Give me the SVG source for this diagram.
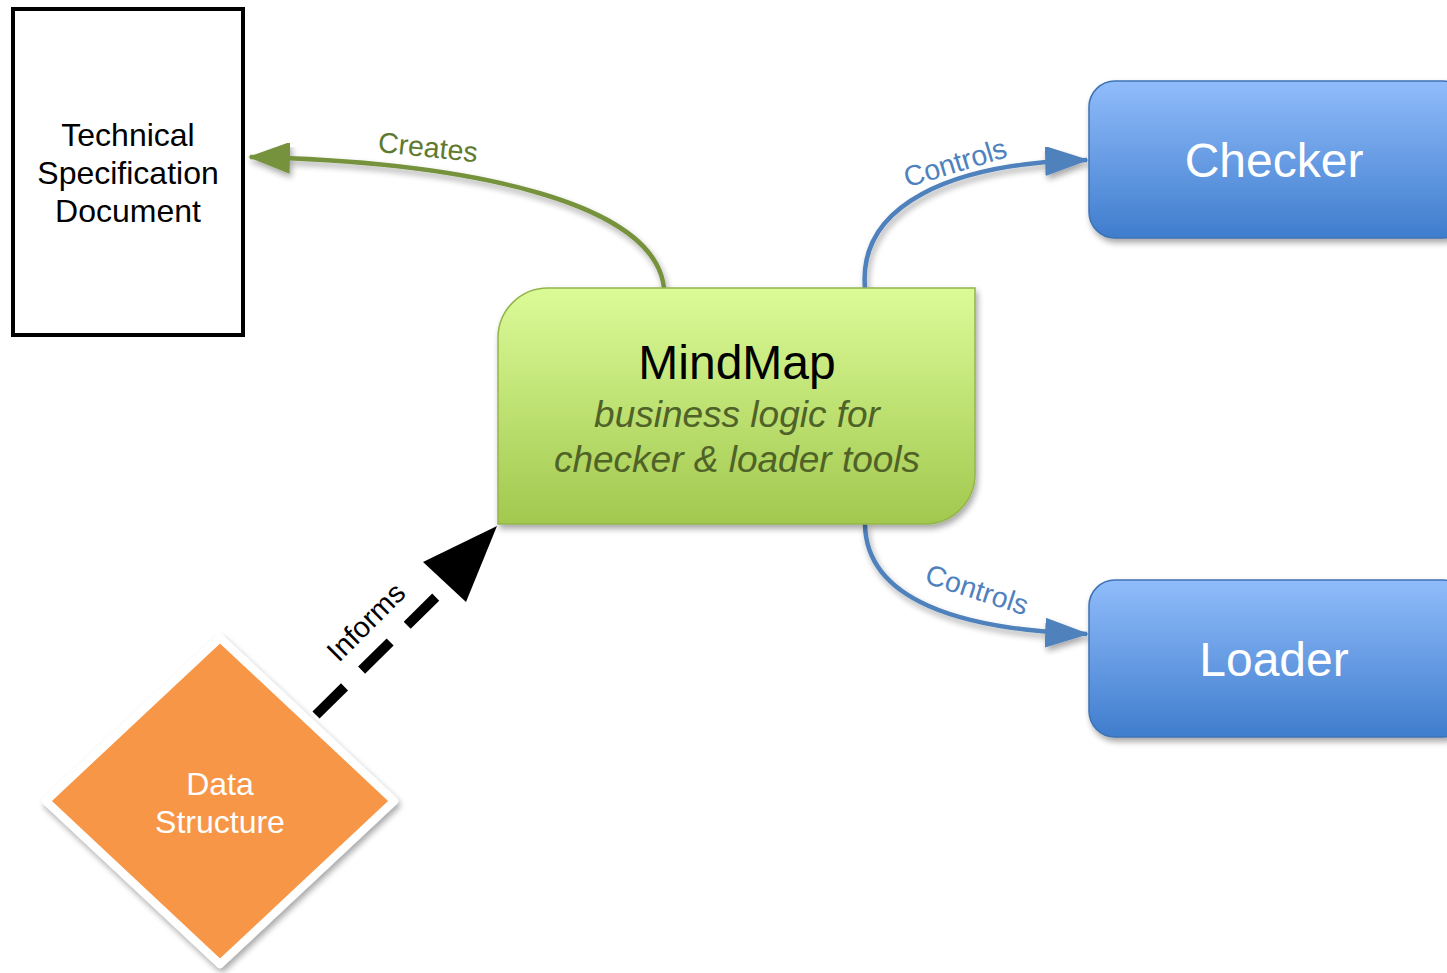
<svg xmlns="http://www.w3.org/2000/svg" width="1447" height="973" viewBox="0 0 1447 973">
  <defs>
    <linearGradient id="gGreen" x1="0" y1="0" x2="0" y2="1">
      <stop offset="0" stop-color="#dbfb98"/>
      <stop offset="1" stop-color="#a2c84e"/>
    </linearGradient>
    <linearGradient id="gBlue" x1="0" y1="0" x2="0" y2="1">
      <stop offset="0" stop-color="#90bcfb"/>
      <stop offset="1" stop-color="#3f7dcd"/>
    </linearGradient>
    <filter id="shadow" x="-10%" y="-10%" width="125%" height="130%">
      <feGaussianBlur in="SourceAlpha" stdDeviation="3"/>
      <feOffset dx="2" dy="4" result="b"/>
      <feComponentTransfer><feFuncA type="linear" slope="0.35"/></feComponentTransfer>
      <feMerge><feMergeNode/><feMergeNode in="SourceGraphic"/></feMerge>
    </filter>
    <marker id="arrGreen" viewBox="0 0 10 10" refX="9.5" refY="5" markerUnits="userSpaceOnUse" markerWidth="42" markerHeight="32" orient="auto" preserveAspectRatio="none">
      <path d="M0,0 L10,5 L0,10 z" fill="#76923c"/>
    </marker>
    <marker id="arrBlue" viewBox="0 0 10 10" refX="9.5" refY="5" markerUnits="userSpaceOnUse" markerWidth="44" markerHeight="30" orient="auto" preserveAspectRatio="none">
      <path d="M0,0 L10,5 L0,10 z" fill="#4f81bd"/>
    </marker>
  </defs>
  <style>
    .sans { font-family: "Liberation Sans", Arial, sans-serif; }
    .lbl { font-size: 28.5px; }
    .blueEdge { fill: none; stroke: #4f81bd; stroke-width: 4.5; }
  </style>
  <rect width="1447" height="973" fill="#ffffff"/>

  <g id="connectors">
    <!-- Creates -->
    <path d="M664,288 C655,205 480,162 250,157" fill="none" stroke="#76923c" stroke-width="4.5" marker-end="url(#arrGreen)" filter="url(#shadow)"/>
    <text class="sans lbl" x="427" y="157" text-anchor="middle" fill="#5f7a2e" transform="rotate(6 427 157)">Creates</text>
    <!-- Controls to Checker -->
    <path class="blueEdge" d="M865,288 C858,205 950,163 1087,160" marker-end="url(#arrBlue)" filter="url(#shadow)"/>
    <text class="sans lbl" x="958" y="172" text-anchor="middle" fill="#4f81bd" transform="rotate(-17 958 172)">Controls</text>
    <!-- Controls to Loader -->
    <path class="blueEdge" d="M865,524 C866,600 960,630 1087,634" marker-end="url(#arrBlue)" filter="url(#shadow)"/>
    <text class="sans lbl" x="974" y="599" text-anchor="middle" fill="#4f81bd" transform="rotate(18 974 599)">Controls</text>
    <!-- Informs -->
    <line x1="316" y1="715" x2="445" y2="588" stroke="#000" stroke-width="10" stroke-dasharray="40 24"/>
    <polygon points="497,526 466,602 423,562" fill="#000"/>
    <text class="sans" font-size="29" x="373" y="629" text-anchor="middle" fill="#000" transform="rotate(-45 373 629)">Informs</text>
  </g>

  <g id="tech-spec">
    <rect x="13" y="9" width="230" height="326" fill="#fff" stroke="#000" stroke-width="4"/>
    <text class="sans" font-size="32" text-anchor="middle" fill="#000"><tspan x="128" y="146">Technical</tspan><tspan x="128" y="184">Specification</tspan><tspan x="128" y="222">Document</tspan></text>
  </g>

  <g id="mindmap">
    <path d="M548,288 L975,288 L975,474 A50,50 0 0 1 925,524 L498,524 L498,338 A50,50 0 0 1 548,288 z" fill="url(#gGreen)" stroke="#94b54c" stroke-width="1.5" filter="url(#shadow)"/>
    <text class="sans" font-size="48" x="737" y="379" text-anchor="middle" fill="#000">MindMap</text>
    <text class="sans" font-size="37" font-style="italic" text-anchor="middle" fill="#4f6228"><tspan x="737" y="427">business logic for</tspan><tspan x="737" y="472">checker &amp; loader tools</tspan></text>
  </g>

  <g id="checker">
    <rect x="1089" y="81" width="380" height="157" rx="26" fill="url(#gBlue)" stroke="#3e72b4" stroke-width="1.5" filter="url(#shadow)"/>
    <text class="sans" font-size="48" x="1274" y="177" text-anchor="middle" fill="#fff">Checker</text>
  </g>

  <g id="loader">
    <rect x="1089" y="580" width="380" height="157" rx="26" fill="url(#gBlue)" stroke="#3e72b4" stroke-width="1.5" filter="url(#shadow)"/>
    <text class="sans" font-size="48" x="1274" y="676" text-anchor="middle" fill="#fff">Loader</text>
  </g>

  <g id="data-structure">
    <polygon points="220,638 394,801 220,964 46,801" fill="#f79646" stroke="#ffffff" stroke-width="8" stroke-linejoin="round" filter="url(#shadow)"/>
    <text class="sans" font-size="32" text-anchor="middle" fill="#fff"><tspan x="220" y="795">Data</tspan><tspan x="220" y="833">Structure</tspan></text>
  </g>
</svg>
